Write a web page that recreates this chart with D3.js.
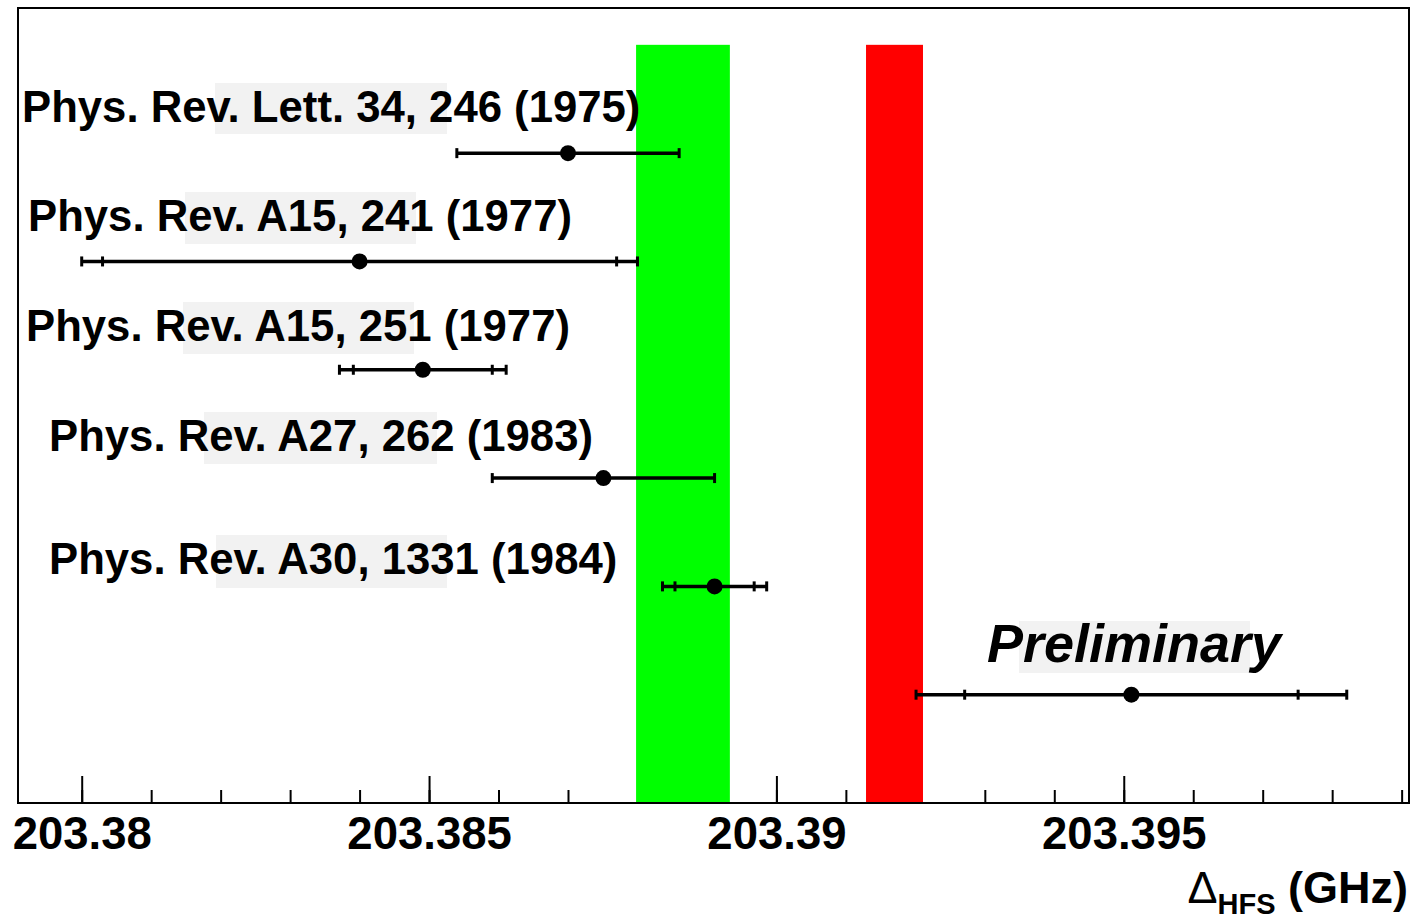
<!DOCTYPE html>
<html><head><meta charset="utf-8">
<script src="https://cdn.jsdelivr.net/npm/d3@7"></script>
<style>body{margin:0;background:#fff} svg{display:block}</style>
</head><body>
<script>
// ---- data ----
const references = ["Phys. Rev. Lett. 34, 246 (1975)", "Phys. Rev. A15, 241 (1977)", "Phys. Rev. A15, 251 (1977)", "Phys. Rev. A27, 262 (1983)", "Phys. Rev. A30, 1331 (1984)", "Preliminary"];
const rows = [6, 5, 4, 3, 2, 1];
const centralValues = [203.38700, 203.38400, 203.38491, 203.38751, 203.38911, 203.39511];
const statErrors = [null, 0.0037, 0.0010, null, 0.00057, 0.0024];
const totalErrors = [0.0016, 0.0040, 0.0012, 0.0016, 0.00075, 0.0031];
const bandNames = ["Previous experiments", "QED"];
const bandLow = [203.38798, 203.39129];
const bandHigh = [203.38933, 203.39211];
const bandColors = ["#00ff00", "#ff0000"];
const bandTop = 7;
const majorTicks = [203.380, 203.385, 203.390, 203.395];
const majorTickLabels = ["203.38", "203.385", "203.39", "203.395"];
const xTitle = {symbol: "\u0394", sub: "HFS", unit: " (GHz)"};

// ---- layout ----
const W = 1413, H = 923;
const frame = {left: 18, right: 1409, top: 8, bottom: 803};
const labelLayout = [
  {x: 22, y: 122, box: [215, 83, 232, 51], size: 43.7, italic: false},
  {x: 28, y: 231, box: [185, 192, 231, 52], size: 43.7, italic: false},
  {x: 26, y: 341, box: [183, 302, 231, 52], size: 43.7, italic: false},
  {x: 49, y: 451, box: [204, 412, 233, 52], size: 43.7, italic: false},
  {x: 49, y: 574, box: [216, 535, 231, 53], size: 43.7, italic: false},
  {x: 987, y: 662, box: [1019, 621, 231, 52], size: 54, italic: true}
];

const svg = d3.select("body").append("svg").attr("width", W).attr("height", H)
  .style("font-family", "'Liberation Sans', Arial, Helvetica, sans-serif");

const x = d3.scaleLinear().domain([203.379083, 203.399106]).range([frame.left, frame.right]);
const y = d3.scaleLinear().domain([0, 7.34]).range([frame.bottom, frame.top]);

svg.append("rect").attr("width", W).attr("height", H).attr("fill", "#fff");

// axes (ticks below the bands)
const minor = d3.axisBottom(x).tickValues(x.ticks(20)).tickSizeInner(-13).tickSizeOuter(0).tickFormat("");
const major = d3.axisBottom(x).tickValues(majorTicks).tickSizeInner(-27).tickSizeOuter(0)
  .tickPadding(14).tickFormat((d, i) => majorTickLabels[i]);
const gMin = svg.append("g").attr("transform", `translate(0,${frame.bottom})`).call(minor);
const gMaj = svg.append("g").attr("transform", `translate(0,${frame.bottom})`).call(major);
[gMin, gMaj].forEach(g => {
  g.select(".domain").remove();
  g.selectAll(".tick line").attr("stroke", "#000").attr("stroke-width", 2);
});
gMaj.selectAll(".tick text").attr("font-size", 45.5).attr("font-weight", "bold")
  .attr("fill", "#000").attr("dy", null).attr("y", 46)
  .style("font-family", "'Liberation Sans', Arial, Helvetica, sans-serif");

// bands
svg.append("g").selectAll("rect").data(bandNames).join("rect")
  .attr("x", (d, i) => x(bandLow[i]))
  .attr("width", (d, i) => x(bandHigh[i]) - x(bandLow[i]))
  .attr("y", y(bandTop))
  .attr("height", y(0) - y(bandTop))
  .attr("fill", (d, i) => bandColors[i]);

// label grey boxes + text
const lab = svg.append("g");
lab.selectAll("rect").data(labelLayout).join("rect")
  .attr("x", d => d.box[0]).attr("y", d => d.box[1])
  .attr("width", d => d.box[2]).attr("height", d => d.box[3])
  .attr("fill", "#f2f2f2");
lab.selectAll("text").data(references).join("text")
  .attr("x", (d, i) => labelLayout[i].x)
  .attr("y", (d, i) => labelLayout[i].y)
  .attr("font-size", (d, i) => labelLayout[i].size)
  .attr("font-weight", "bold")
  .attr("font-style", (d, i) => labelLayout[i].italic ? "italic" : "normal")
  .attr("fill", "#000")
  .text(d => d);

// error bars
const eb = svg.append("g").attr("stroke", "#000");
references.forEach((r, i) => {
  const cy = y(rows[i]);
  const lo = x(centralValues[i] - totalErrors[i]);
  const hi = x(centralValues[i] + totalErrors[i]);
  eb.append("line").attr("x1", lo).attr("x2", hi).attr("y1", cy).attr("y2", cy).attr("stroke-width", 3.5);
  const caps = [lo, hi];
  if (statErrors[i] != null) {
    caps.push(x(centralValues[i] - statErrors[i]), x(centralValues[i] + statErrors[i]));
  }
  caps.forEach(cx => {
    eb.append("line").attr("x1", cx).attr("x2", cx).attr("y1", cy - 5).attr("y2", cy + 5).attr("stroke-width", 3);
  });
  eb.append("circle").attr("cx", x(centralValues[i])).attr("cy", cy).attr("r", 8)
    .attr("fill", "#000").attr("stroke", "none");
});

// frame
svg.append("rect").attr("x", frame.left).attr("y", frame.top)
  .attr("width", frame.right - frame.left).attr("height", frame.bottom - frame.top)
  .attr("fill", "none").attr("stroke", "#000").attr("stroke-width", 2);

// x title
const t = svg.append("text").attr("x", 1408).attr("y", 903).attr("text-anchor", "end").attr("fill", "#000");
t.append("tspan").attr("font-size", 45).attr("font-weight", "normal").text(xTitle.symbol);
t.append("tspan").attr("font-size", 29).attr("font-weight", "bold").attr("dy", 11).text(xTitle.sub);
t.append("tspan").attr("font-size", 45).attr("font-weight", "bold").attr("dy", -11).text(xTitle.unit);
</script>
</body></html>
